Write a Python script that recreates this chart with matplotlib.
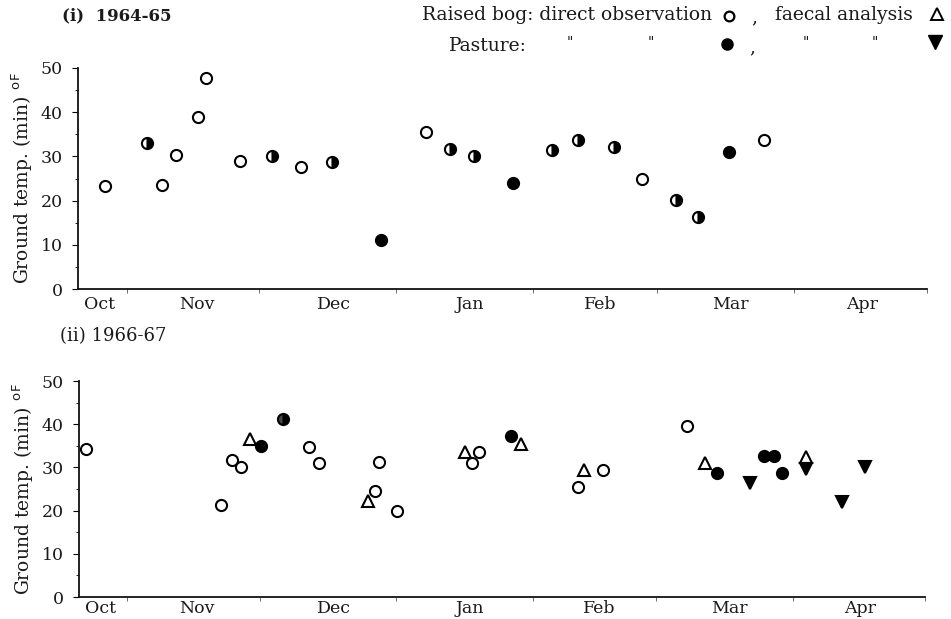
import matplotlib
matplotlib.use("Agg")
import matplotlib.pyplot as plt
from matplotlib.ticker import FixedLocator, MultipleLocator

# ---- data: x = days since 1 Oct, y = ground temp (min) degF ----
# (i) 1964-65
top_open_day = [26.0, 39.1, 42.1, 47.1, 49.0, 56.7, 70.5, 98.6, 147.6, 175.1]
top_open_temp = [23.2, 23.6, 30.4, 38.9, 47.7, 29.0, 27.7, 35.5, 24.9, 33.8]
top_half_day = [35.6, 63.9, 77.5, 104.2, 109.5, 127.1, 133.1, 141.2, 155.2, 160.2]
top_half_temp = [33.0, 30.1, 28.7, 31.7, 30.0, 31.5, 33.6, 32.1, 20.2, 16.2]
top_fill_day = [88.5, 118.3, 167.2]
top_fill_temp = [11.1, 23.9, 31.0]

# (ii) 1966-67
bot_open_day = [21.7, 52.3, 54.8, 56.7, 72.2, 74.4, 87.1, 88.0, 92.1, 109.2, 110.8, 133.2, 139.0, 157.9]
bot_open_temp = [34.2, 21.3, 31.7, 30.2, 34.8, 31.0, 24.6, 31.2, 19.9, 31.1, 33.6, 25.4, 29.4, 39.6]
bot_tri_day = [58.8, 85.6, 107.6, 120.4, 134.7, 162.1, 185.1]
bot_tri_temp = [36.5, 22.3, 33.6, 35.4, 29.3, 31.1, 32.5]
bot_fill_day = [61.4, 118.0, 164.7, 175.4, 177.7, 179.6]
bot_fill_temp = [35.0, 37.3, 28.7, 32.7, 32.7, 28.7]
bot_half_day = [66.2]
bot_half_temp = [41.2]
bot_down_day = [172.3, 184.9, 193.1, 198.4]
bot_down_temp = [26.3, 29.7, 22.0, 30.0]

month_labels = ["Oct", "Nov", "Dec", "Jan", "Feb", "Mar", "Apr"]
month_label_pos = [24.9, 46.8, 77.8, 108.6, 138.0, 167.6, 197.3]
month_bounds = [31, 61, 92, 123, 151, 182, 212]
y_ticks = [0, 10, 20, 30, 40, 50]

FONT = "DejaVu Serif"
TC = "#1a1a1a"
plt.rcParams["font.family"] = FONT

fig = plt.figure(figsize=(9.51, 6.19), dpi=100)
W, H = 951, 619

def make_ax(left, right, top, bottom):
    return fig.add_axes([left / W, 1 - bottom / H, (right - left) / W, (bottom - top) / H])

ax1 = make_ax(78, 927, 68, 289)
ax2 = make_ax(79, 925, 381, 597)

def style(ax, xpad):
    ax.set_xlim(20, 212)
    ax.set_ylim(0, 50)
    for s in ("top", "right"):
        ax.spines[s].set_visible(False)
    for s in ("left", "bottom"):
        ax.spines[s].set_linewidth(1.3)
        ax.spines[s].set_color("#111")
    ax.xaxis.set_major_locator(FixedLocator(month_label_pos))
    ax.set_xticklabels(month_labels, fontsize=12.5, color=TC)
    ax.xaxis.set_minor_locator(FixedLocator(month_bounds))
    ax.tick_params(axis="x", which="major", length=0, pad=xpad)
    ax.tick_params(axis="x", which="minor", length=3, direction="out", color="#555")
    ax.set_yticks(y_ticks)
    ax.set_yticklabels([str(v) for v in y_ticks], fontsize=12.5, color=TC)
    ax.yaxis.set_minor_locator(MultipleLocator(5))
    ax.tick_params(axis="y", which="major", length=4, direction="out", pad=7)
    ax.tick_params(axis="y", which="minor", length=2, direction="out")
    ax.set_ylabel(r"Ground temp. (min) $^{\mathrm{o}}$$^{\mathrm{F}}$", fontsize=13.5,
                  color=TC, labelpad=4)

style(ax1, 5)
style(ax2, 2)

ms = 8
mew = 1.5
kw = dict(linestyle="none", clip_on=False, zorder=3)

ax1.plot(top_open_day, top_open_temp, marker="o", ms=ms, mfc="white", mec="black", mew=mew, **kw)
ax1.plot(top_half_day, top_half_temp, marker="o", ms=ms, fillstyle="right", mfc="black",
         mfcalt="white", mec="black", mew=mew, **kw)
ax1.plot(top_fill_day, top_fill_temp, marker="o", ms=ms, mfc="black", mec="black", mew=mew, **kw)

ax2.plot(bot_open_day, bot_open_temp, marker="o", ms=ms, mfc="white", mec="black", mew=mew, **kw)
ax2.plot(bot_tri_day, bot_tri_temp, marker="^", ms=9, mfc="white", mec="black", mew=mew, **kw)
ax2.plot(bot_fill_day, bot_fill_temp, marker="o", ms=ms, mfc="black", mec="black", mew=mew, **kw)
ax2.plot(bot_half_day, bot_half_temp, marker="o", ms=ms, fillstyle="right", mfc="black",
         mfcalt="#444", mec="black", mew=mew, **kw)
ax2.plot(bot_down_day, bot_down_temp, marker="v", ms=9, mfc="black", mec="black", mew=mew, **kw)

# ---- overlay for titles and legend key (pixel layout) ----
ov = fig.add_axes([0, 0, 1, 1], zorder=-1)
ov.set_xlim(0, W)
ov.set_ylim(H, 0)
ov.axis("off")

ov.text(62, 16, "(i)  1964-65", fontsize=12, color=TC, weight="bold", va="center", ha="left")
ov.text(60, 336, "(ii) 1966-67", fontsize=13, color=TC, va="center", ha="left")

LF = 13.5
ov.text(422, 15, "Raised bog: direct observation", fontsize=LF, color=TC, va="center", ha="left")
ov.plot([729], [16], marker="o", ms=7, mfc="white", mec="black", mew=1.6, linestyle="none")
ov.text(754, 17, ",", fontsize=LF, color=TC, va="center", ha="center")
ov.text(775, 15, "faecal analysis", fontsize=LF, color=TC, va="center", ha="left")
ov.plot([937], [14], marker="^", ms=9, mfc="white", mec="black", mew=1.4, linestyle="none")

ov.text(449, 46, "Pasture:", fontsize=LF, color=TC, va="center", ha="left")
for qx in (570, 651, 806, 875):
    ov.text(qx, 43, '"', fontsize=10, color=TC, va="center", ha="center")
ov.plot([727], [44], marker="o", ms=8, mfc="black", mec="black", linestyle="none")
ov.text(752, 47, ",", fontsize=LF, color=TC, va="center", ha="center")
ov.plot([935], [42], marker="v", ms=9.5, mfc="black", mec="black", linestyle="none")

fig.savefig("out.png", dpi=100)
